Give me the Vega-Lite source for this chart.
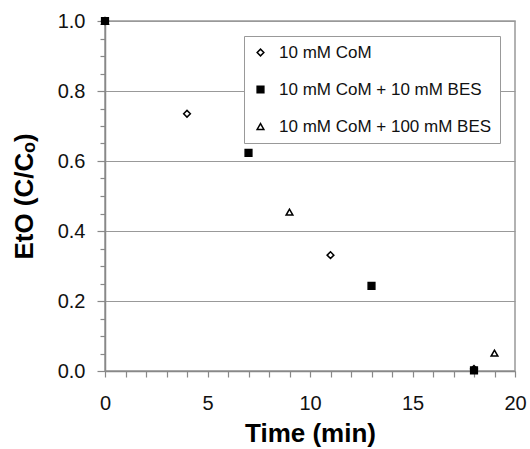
{
  "$schema": "https://vega.github.io/schema/vega-lite/v6.json",
  "width": 410,
  "height": 350,
  "autosize": {"type": "none"},
  "padding": {"left": 105, "top": 21, "right": 15, "bottom": 78},
  "background": "white",
  "config": {
    "font": "Liberation Sans",
    "view": {"stroke": "#999999", "strokeWidth": 1.5}
  },
  "data": {
    "values": [
      {"series": "10 mM CoM", "time": 0, "eto": 1.0},
      {"series": "10 mM CoM", "time": 4, "eto": 0.735},
      {"series": "10 mM CoM", "time": 11, "eto": 0.331},
      {"series": "10 mM CoM", "time": 18, "eto": 0.006},
      {"series": "10 mM CoM + 100 mM BES", "time": 0, "eto": 1.0},
      {"series": "10 mM CoM + 100 mM BES", "time": 9, "eto": 0.454},
      {"series": "10 mM CoM + 100 mM BES", "time": 19, "eto": 0.051},
      {"series": "10 mM CoM + 10 mM BES", "time": 0, "eto": 1.0},
      {"series": "10 mM CoM + 10 mM BES", "time": 7, "eto": 0.623},
      {"series": "10 mM CoM + 10 mM BES", "time": 13, "eto": 0.243},
      {"series": "10 mM CoM + 10 mM BES", "time": 18, "eto": 0.002}
    ]
  },
  "mark": {"type": "point", "filled": false, "strokeWidth": 1.5, "size": 45, "opacity": 1},
  "encoding": {
    "x": {
      "field": "time", "type": "quantitative",
      "scale": {"domain": [0, 20], "nice": false, "zero": true},
      "axis": {
        "title": "Time (min)",
        "titleFontSize": 26, "titleFontWeight": "bold", "titleColor": "black", "titlePadding": 7,
        "values": [0,1,2,3,4,5,6,7,8,9,10,11,12,13,14,15,16,17,18,19,20],
        "labelExpr": "datum.value % 5 === 0 ? datum.label : ''",
        "labelFontSize": 20, "labelColor": "#111111", "labelPadding": 16, "labelFlush": false,
        "grid": false,
        "domainColor": "#888888", "domainWidth": 1.5,
        "tickColor": "#888888", "tickWidth": 1.2, "tickSize": 6
      }
    },
    "y": {
      "field": "eto", "type": "quantitative",
      "scale": {"domain": [0, 1], "nice": false},
      "axis": {
        "title": "EtO (C/Cₒ)",
        "titleFontSize": 26, "titleFontWeight": "bold", "titleColor": "black", "titlePadding": 20,
        "values": [0,0.05,0.1,0.15,0.2,0.25,0.3,0.35,0.4,0.45,0.5,0.55,0.6,0.65,0.7,0.75,0.8,0.85,0.9,0.95,1.0],
        "labelExpr": "abs(datum.value*5 - round(datum.value*5)) < 0.001 ? format(datum.value, '.1f') : ''",
        "labelFontSize": 20, "labelColor": "#111111", "labelPadding": 12, "labelFlush": false,
        "grid": true,
        "gridColor": "#999999", "gridWidth": 1.2,
        "gridOpacity": {"condition": {"test": "abs(datum.value*5 - round(datum.value*5)) < 0.001", "value": 1}, "value": 0},
        "domainColor": "#888888", "domainWidth": 1.5,
        "tickColor": "#888888", "tickWidth": 1.2,
        "tickSize": {"condition": {"test": "abs(datum.value*5 - round(datum.value*5)) < 0.001", "value": 8}, "value": 5}
      }
    },
    "stroke": {"value": "black"},
    "shape": {
      "field": "series", "type": "nominal",
      "scale": {"domain": ["10 mM CoM", "10 mM CoM + 10 mM BES", "10 mM CoM + 100 mM BES"], "range": ["diamond", "square", "triangle-up"]},
      "legend": {
        "title": null, "orient": "top-right", "offset": 15,
        "labelFontSize": 17, "labelColor": "#111111", "labelLimit": 300,
        "strokeColor": "#999999", "fillColor": "white", "padding": 8,
        "rowPadding": 19, "symbolSize": 45, "labelOffset": 10,
        "encode": {"symbols": {"update": {"stroke": {"value": "black"}, "strokeWidth": {"value": 1.5}}}}
      }
    },
    "fill": {
      "field": "series", "type": "nominal",
      "scale": {"domain": ["10 mM CoM", "10 mM CoM + 10 mM BES", "10 mM CoM + 100 mM BES"], "range": ["white", "black", "white"]},
      "legend": {
        "title": null, "orient": "top-right", "offset": 15,
        "labelFontSize": 17, "labelColor": "#111111", "labelLimit": 300,
        "strokeColor": "#999999", "fillColor": "white", "padding": 8,
        "rowPadding": 19, "symbolSize": 45, "labelOffset": 10,
        "encode": {"symbols": {"update": {"stroke": {"value": "black"}, "strokeWidth": {"value": 1.5}}}}
      }
    }
  }
}
